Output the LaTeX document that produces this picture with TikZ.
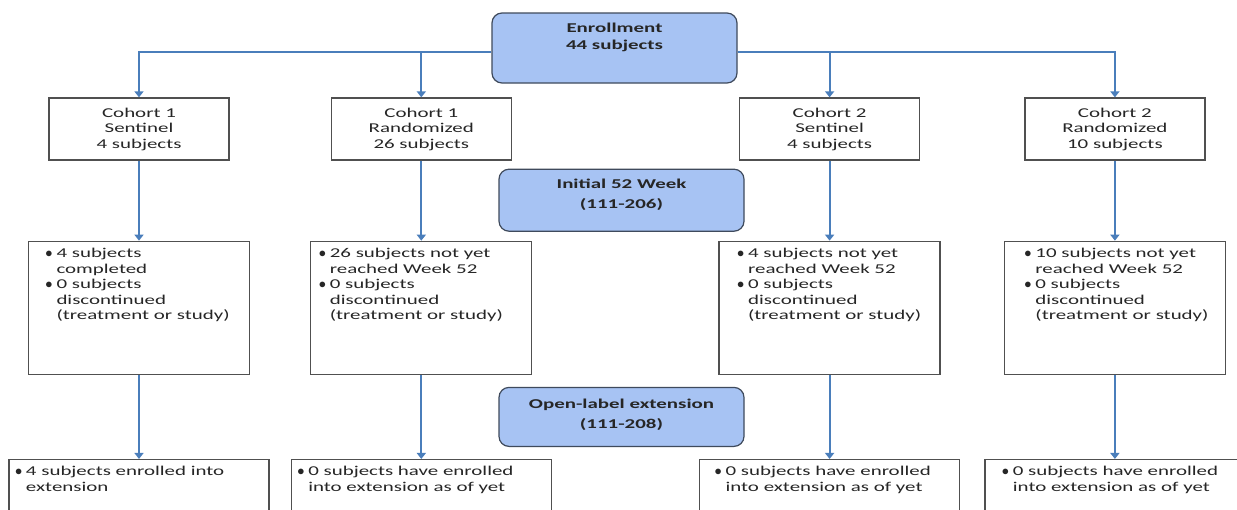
\documentclass[tikz,border=0pt]{standalone}
\usepackage{fontspec}
\setmainfont{Carlito}[FakeStretch=1.55]
\usepackage{tikz}
\usetikzlibrary{arrows.meta, positioning}
\definecolor{phasefill}{RGB}{167,195,243}
\definecolor{phaseline}{RGB}{63,74,92}
\definecolor{flowblue}{RGB}{74,126,187}
\definecolor{boxgray}{RGB}{80,80,80}
\definecolor{inkgray}{RGB}{38,38,38}
\newcommand{\bodysize}{\fontsize{13.5}{15.5}\selectfont}
\newcommand{\phasesize}{\fontsize{13.5}{20}\selectfont\bfseries}
\newcommand{\bitem}{\par\hangindent=11pt\hangafter=1\noindent\makebox[11pt][l]{$\bullet$}}
\newcommand{\statustext}[4]{\parbox[c][#2][t]{#1}{\rightskip=0pt plus 1fil\leftskip=#3\relax\parindent=0pt\vspace*{7pt}#4\par}}
\newcommand{\phasetext}[3]{\parbox[c][#1][t]{245pt}{\centering\vspace*{#2}#3}}
\tikzstyle{phase}  = [rectangle, rounded corners=10pt, draw=phaseline, fill=phasefill, line width=1.2pt, inner sep=0pt, text=inkgray, font=\phasesize]
\tikzstyle{cohort} = [rectangle, draw=boxgray, line width=1.3pt, minimum width=180pt, minimum height=62pt, text=inkgray, font=\bodysize, align=center]
\tikzstyle{status} = [rectangle, draw=boxgray, line width=1.3pt, inner sep=0pt, text=inkgray, font=\bodysize]
\tikzstyle{arrow}  = [-{Triangle[length=6pt, width=9pt]}, draw=flowblue, line width=1.9pt]

\begin{document}
\begin{tikzpicture}[x=1pt, y=-1pt]
    \fill[white] (0,0) rectangle (1237,509);
    \useasboundingbox (0,0) rectangle (1237,509);

    \node (enroll) [phase] at (614.5,48) {\phasetext{70pt}{10pt}{Enrollment\\[-3pt]44 subjects}};

    \node (c1s) [cohort] at (139,129) {Cohort 1\\Sentinel\\4 subjects};
    \node (c1r) [cohort, right=101pt of c1s] {Cohort 1\\Randomized\\26 subjects};
    \node (c2s) [cohort, right=227pt of c1r] {Cohort 2\\Sentinel\\4 subjects};
    \node (c2r) [cohort, right=104pt of c2s] {Cohort 2\\Randomized\\10 subjects};

    \node (initial) [phase, below=85pt of enroll, xshift=7pt] {\phasetext{62pt}{10pt}{Initial 52 Week\\(111-206)}};

    \node (s1s) [status, below=80pt of c1s] {\statustext{221pt}{133pt}{17pt}{\bitem 4 subjects\\completed \bitem 0 subjects\\discontinued\\(treatment or study)}};
    \node (s1r) [status, below=80pt of c1r] {\statustext{221pt}{133pt}{8pt}{\bitem 26 subjects not yet\\reached Week 52 \bitem 0 subjects\\discontinued\\(treatment or study)}};
    \node (s2s) [status, below=80pt of c2s] {\statustext{221pt}{133pt}{18pt}{\bitem 4 subjects not yet\\reached Week 52 \bitem 0 subjects\\discontinued\\(treatment or study)}};
    \node (s2r) [status, below=80pt of c2r] {\statustext{221pt}{133pt}{20pt}{\bitem 10 subjects not yet\\reached Week 52 \bitem 0 subjects\\discontinued\\(treatment or study)}};

    \node (openlabel) [phase, below=155pt of initial] {\phasetext{59pt}{12pt}{Open-label extension\\(111-208)}};

    \node (x1s) [status, below=84pt of s1s] {\statustext{260pt}{80pt}{6pt}{\bitem 4 subjects enrolled into\\extension}};
    \node (x1r) [status, below=84pt of s1r] {\statustext{260pt}{80pt}{6pt}{\bitem 0 subjects have enrolled\\into extension as of yet}};
    \node (x2s) [status, below=84pt of s2s] {\statustext{260pt}{80pt}{15pt}{\bitem 0 subjects have enrolled\\into extension as of yet}};
    \node (x2r) [status, below=84pt of s2r] {\statustext{260pt}{80pt}{17pt}{\bitem 0 subjects have enrolled\\into extension as of yet}};

    % enrollment split
    \draw [arrow] ([yshift=-4pt]enroll.west) -| (c1s);
    \draw [arrow] ([yshift=-4pt]enroll.west) -| (c1r);
    \draw [arrow] ([yshift=-4pt]enroll.east) -| (c2s);
    \draw [arrow] ([yshift=-4pt]enroll.east) -| (c2r);

    \draw [arrow] (c1s) -- (s1s);
    \draw [arrow] (c1r) -- (s1r);
    \draw [arrow] (c2s) -- (s2s);
    \draw [arrow] (c2r) -- (s2r);

    \draw [arrow] (s1s) -- (x1s);
    \draw [arrow] (s1r) -- (x1r);
    \draw [arrow] (s2s) -- (x2s);
    \draw [arrow] (s2r) -- (x2r);
\end{tikzpicture}
\end{document}
